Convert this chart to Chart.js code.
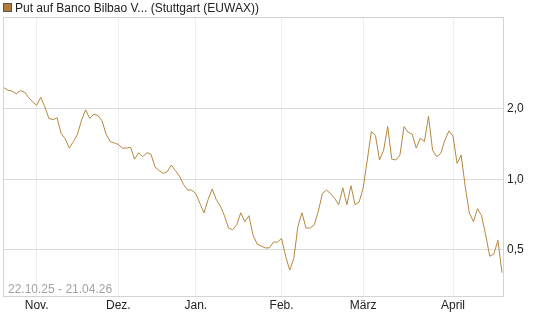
<!DOCTYPE html>
<html>
<head>
<meta charset="utf-8">
<script src="https://cdn.jsdelivr.net/npm/chart.js@4.4.1/dist/chart.umd.min.js"></script>
<style>
  html, body { margin: 0; padding: 0; background: #fff; }
  #wrap { width: 545px; height: 327px; position: relative; }
</style>
</head>
<body>
<div id="wrap"><canvas id="chart"></canvas></div>
<script>
// series name and date range
const seriesName = 'Put auf Banco Bilbao V... (Stuttgart (EUWAX))';
const rangeText = '22.10.25 - 21.04.26';

// month labels and the trading-day index where each month starts
const monthLabels = ['Nov.', 'Dez.', 'Jan.', 'Feb.', 'März', 'April'];
const monthStart = [8, 28, 47, 68, 88, 110];

// y ticks (log scale)
const yTicks = [0.5, 1, 2];

// daily closing values, 22.10.25 .. 21.04.26
const prices = [
    2.46, 2.40, 2.38, 2.32, 2.39, 2.36, 2.24, 2.14, 2.07, 2.24,
    2.04, 1.82, 1.80, 1.83, 1.57, 1.49, 1.36, 1.45, 1.56, 1.79,
    1.98, 1.82, 1.90, 1.87, 1.78, 1.56, 1.45, 1.43, 1.41, 1.36,
    1.36, 1.37, 1.22, 1.30, 1.25, 1.30, 1.28, 1.13, 1.09, 1.06,
    1.08, 1.15, 1.09, 1.03, 0.95, 0.90, 0.90, 0.87, 0.79, 0.72,
    0.82, 0.91, 0.82, 0.77, 0.70, 0.62, 0.61, 0.64, 0.72, 0.66,
    0.70, 0.58, 0.53, 0.52, 0.51, 0.51, 0.54, 0.54, 0.56, 0.47,
    0.41, 0.46, 0.63, 0.72, 0.62, 0.62, 0.64, 0.73, 0.87, 0.90,
    0.87, 0.83, 0.78, 0.92, 0.78, 0.94, 0.78, 0.80, 0.92, 1.21,
    1.60, 1.54, 1.21, 1.33, 1.68, 1.22, 1.21, 1.27, 1.68, 1.59,
    1.56, 1.36, 1.50, 1.45, 1.86, 1.33, 1.25, 1.29, 1.47, 1.61,
    1.53, 1.17, 1.27, 0.93, 0.72, 0.66, 0.75, 0.70, 0.58, 0.47,
    0.48, 0.55, 0.40
];

const lineColor = '#b6873d';

const points = prices.map((v, i) => ({ x: i, y: v }));

// frame around the plot, legend and range text
const decorations = {
    id: 'decorations',
    beforeDatasetsDraw(chart) {
        const { ctx, chartArea: a } = chart;
        ctx.save();
        ctx.strokeStyle = '#d4d4d4';
        ctx.lineWidth = 1;
        ctx.strokeRect(Math.round(a.left) + 0.5, Math.round(a.top) + 0.5,
            Math.round(a.right - a.left), Math.round(a.bottom - a.top));
        ctx.restore();
    },
    afterDraw(chart) {
        const { ctx, chartArea: a } = chart;
        ctx.save();
        // legend
        ctx.fillStyle = '#b07d3a';
        ctx.fillRect(3, 3, 8, 8);
        ctx.strokeStyle = '#555';
        ctx.lineWidth = 1;
        ctx.strokeRect(3.5, 3.5, 8, 8);
        ctx.font = '12px "Liberation Sans", Arial, sans-serif';
        ctx.fillStyle = '#222';
        ctx.textBaseline = 'alphabetic';
        ctx.fillText(seriesName, 15, 12);
        // date range
        ctx.fillStyle = '#a3a3a3';
        ctx.fillText(rangeText, a.left + 5, a.bottom - 3);
        ctx.restore();
    }
};

new Chart(document.getElementById('chart'), {
    type: 'line',
    data: {
        datasets: [{
            data: points,
            borderColor: lineColor,
            borderWidth: 1,
            pointRadius: 0,
            tension: 0,
            fill: false
        }]
    },
    options: {
        responsive: true,
        maintainAspectRatio: false,
        animation: false,
        layout: { padding: { top: 17, left: 3, right: 0, bottom: 0 } },
        plugins: {
            legend: { display: false },
            tooltip: { enabled: false }
        },
        scales: {
            x: {
                type: 'linear',
                min: -0.25,
                max: 122.25,
                afterBuildTicks(scale) {
                    scale.ticks = monthStart.map(v => ({ value: v }));
                },
                afterFit(scale) { scale.height = 31; },
                ticks: {
                    autoSkip: false,
                    maxRotation: 0,
                    padding: 2,
                    color: '#222',
                    font: { family: '"Liberation Sans", Arial, sans-serif', size: 12 },
                    callback(value) {
                        const k = monthStart.indexOf(value);
                        return k >= 0 ? monthLabels[k] : '';
                    }
                },
                grid: { color: '#eeeeee', drawTicks: false },
                border: { display: false }
            },
            y: {
                type: 'logarithmic',
                position: 'right',
                bounds: 'data',
                min: 0.318,
                max: 4.93,
                afterBuildTicks(scale) {
                    scale.ticks = yTicks.map(v => ({ value: v }));
                },
                afterFit(scale) { scale.width = 42; },
                ticks: {
                    padding: 4,
                    color: '#222',
                    font: { family: '"Liberation Sans", Arial, sans-serif', size: 12 },
                    callback(value) {
                        return value.toFixed(1).replace('.', ',');
                    }
                },
                grid: { color: '#dadada', drawTicks: false },
                border: { display: false }
            }
        }
    },
    plugins: [decorations]
});
</script>
</body>
</html>
